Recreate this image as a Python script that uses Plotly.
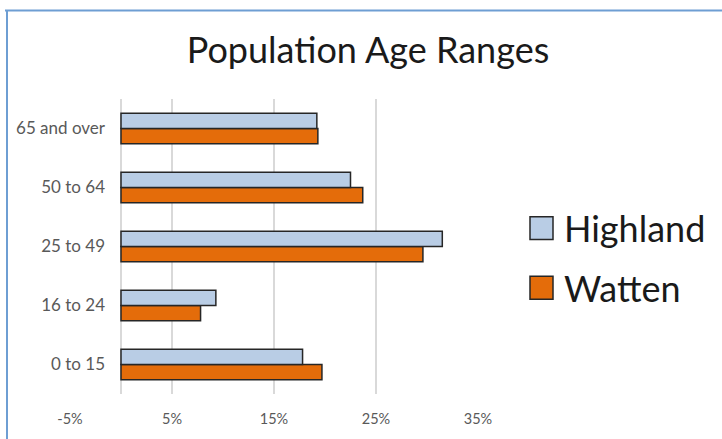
import plotly.graph_objects as go

categories = ["0 to 15", "16 to 24", "25 to 49", "50 to 64", "65 and over"]
highland = [17.8, 9.3, 31.5, 22.5, 19.2]
watten = [19.7, 7.8, 29.6, 23.7, 19.3]
series_names = ["Highland", "Watten"]
series_colors = ["#B9CDE5", "#E46C0A"]
tick_vals = [-5, 5, 15, 25, 35]
tick_text = ["-5%", "5%", "15%", "25%", "35%"]
title_text = "Population Age Ranges"

FONT = "Lato"
W, H = 722, 439
L, R, T, B = 70, 244, 99, 43
pw, ph = W - L - R, H - T - B

def px_x(p):
    return (p - L) / pw

def px_y(p):
    return 1 - (p - T) / ph

fig = go.Figure()
fig.add_trace(go.Bar(y=categories, x=watten, name=series_names[1], orientation="h",
                     marker=dict(color=series_colors[1], line=dict(color="#262626", width=1.5)),
                     showlegend=False))
fig.add_trace(go.Bar(y=categories, x=highland, name=series_names[0], orientation="h",
                     marker=dict(color=series_colors[0], line=dict(color="#262626", width=1.5)),
                     showlegend=False))

# x position of zero in paper coords
zero_pos = (0 - (-5)) / 40

fig.update_layout(
    width=W, height=H,
    margin=dict(l=L, r=R, t=T, b=B),
    paper_bgcolor="white", plot_bgcolor="white",
    barmode="group", bargap=0.48, bargroupgap=0,
    font=dict(family=FONT, color="#595959"),
    title=dict(text=title_text, x=px_x(368), xref="paper", xanchor="center",
               y=1 - 50 / H, yanchor="middle",
               font=dict(family=FONT, size=36, color="#1a1a1a")),
    xaxis=dict(range=[-5, 35], tickvals=tick_vals, ticktext=tick_text,
               showgrid=True, gridcolor="#D9D9D9", gridwidth=1.5,
               zeroline=True, zerolinecolor="#D9D9D9", zerolinewidth=1.5,
               showline=False, ticks="", ticklabelstandoff=14,
               tickfont=dict(size=14.5, color="#595959"),
               fixedrange=True),
    yaxis=dict(categoryorder="array", categoryarray=categories,
               anchor="free", position=zero_pos,
               showgrid=False, showline=False, ticks="",
               ticklabelstandoff=16,
               tickfont=dict(size=17, color="#595959")),
)

# chart frame
fig.add_shape(type="line", xref="paper", yref="paper",
              x0=px_x(5), x1=px_x(730), y0=px_y(10), y1=px_y(10),
              line=dict(color="#6E9ED3", width=2))
fig.add_shape(type="line", xref="paper", yref="paper",
              x0=px_x(7), x1=px_x(7), y0=px_y(10), y1=px_y(445),
              line=dict(color="#6E9ED3", width=2))

# legend
leg_y = [229, 289]
for name, col, yc in zip(series_names, series_colors, leg_y):
    fig.add_shape(type="rect", xref="paper", yref="paper",
                  x0=px_x(530), x1=px_x(553), y0=px_y(yc - 11.5), y1=px_y(yc + 11.5),
                  fillcolor=col, line=dict(color="#262626", width=1.5))
    fig.add_annotation(xref="paper", yref="paper", x=px_x(562), y=px_y(yc),
                       xanchor="left", yanchor="middle", showarrow=False,
                       text=name, font=dict(family=FONT, size=36, color="#1a1a1a"))

fig.write_html("out.html")
